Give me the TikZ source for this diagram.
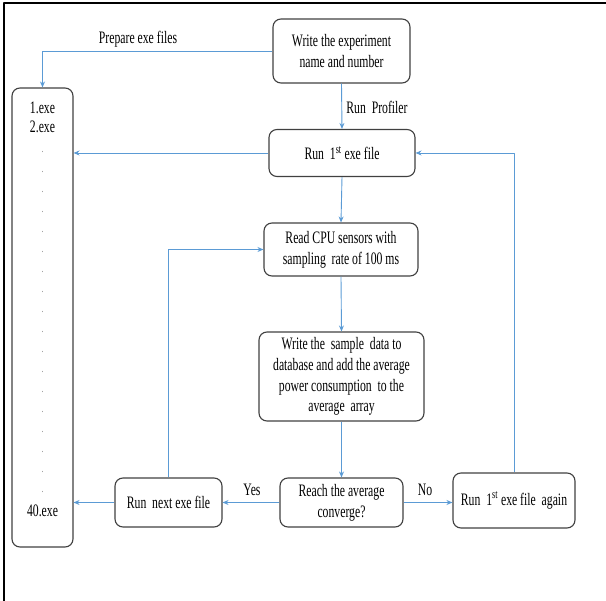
\documentclass[tikz,border=0pt]{standalone}
\usepackage{fontspec}
\setmainfont{Liberation Serif}[FakeStretch=0.67]
\usetikzlibrary{arrows.meta}
\definecolor{flowblue}{RGB}{91,155,213}
\definecolor{boxgray}{RGB}{64,64,64}
\begin{document}
\begin{tikzpicture}[x=1pt, y=-1pt, font=\fontsize{17.5}{20.7}\selectfont, line join=round,
  >={Stealth[length=6pt,width=5pt]},
  box/.style={draw=boxgray, line width=1.1pt, rounded corners=8pt, align=center, inner sep=0pt},
  flow/.style={->, draw=flowblue, line width=0.9pt}]
\useasboundingbox (0,0) rectangle (606,601);
\draw[line width=1.8pt] (606,3) -- (4,3) -- (4,601);
% boxes
\node[box, minimum width=137pt, minimum height=64pt] (write) at (341.5,51) {Write the experiment\\name and number};
\node[box, minimum width=146pt, minimum height=47pt] (runfirst) at (342,153) {Run\, 1\textsuperscript{st} exe file};
\node[box, minimum width=154pt, minimum height=53pt] (readcpu) at (341,249.5) {Read CPU sensors with\\sampling\, rate of 100 ms};
\node[box, minimum width=165pt, minimum height=89pt] (writedata) at (341.5,376.5) {Write the\, sample\, data to\\database and add the average\\power consumption\, to the\\average\, array};
\node[box, minimum width=123pt, minimum height=49pt] (reach) at (341.5,502.5) {Reach the average\\converge?};
\node[box, minimum width=107pt, minimum height=49pt] (runnext) at (168.5,502.5) {Run\, next exe file};
\node[box, minimum width=122pt, minimum height=55pt] (runagain) at (514,500.5) {Run\, 1\textsuperscript{st} exe file\, again};
\node[box, minimum width=61pt, minimum height=459pt] (exelist) at (42.5,317.5) {};
% list of exe files
\node (exe1) at (42.5,108) {1.exe};
\node (exe2) at (42.5,127) {2.exe};
\foreach \i in {0,...,17}
  \node[font=\fontsize{11}{12}\selectfont, text=gray, inner sep=0pt] (dot\i) at (42.5,{152+20*\i}) {.};
\node (exe40) at (42.5,511) {40.exe};
% connectors
\draw[flow] (write.west) -| (exelist.north);
\node (prepare) at (138,39) {Prepare exe files};
\draw[flow] (write.south) -- (runfirst.north);
\node (profiler) at (377,107) {Run\, Profiler};
\draw[flow] (runfirst.west) -- (exelist.east |- runfirst.west);
\draw[flow] (runfirst.south) -- (readcpu.north);
\draw[flow] (readcpu.south) -- (writedata.north);
\draw[flow] (writedata.south) -- (reach.north);
\draw[flow] (reach.west) -- (runnext.east);
\node (yes) at (252,490) {Yes};
\draw[flow] (runnext.west) -- (exelist.east |- runnext.west);
\draw[flow] (reach.east) -- (runagain.west |- reach.east);
\node (no) at (425,490) {No};
\draw[flow] (runagain.north) |- (runfirst.east);
\draw[flow] (runnext.north) |- (readcpu.west);
\end{tikzpicture}
\end{document}
